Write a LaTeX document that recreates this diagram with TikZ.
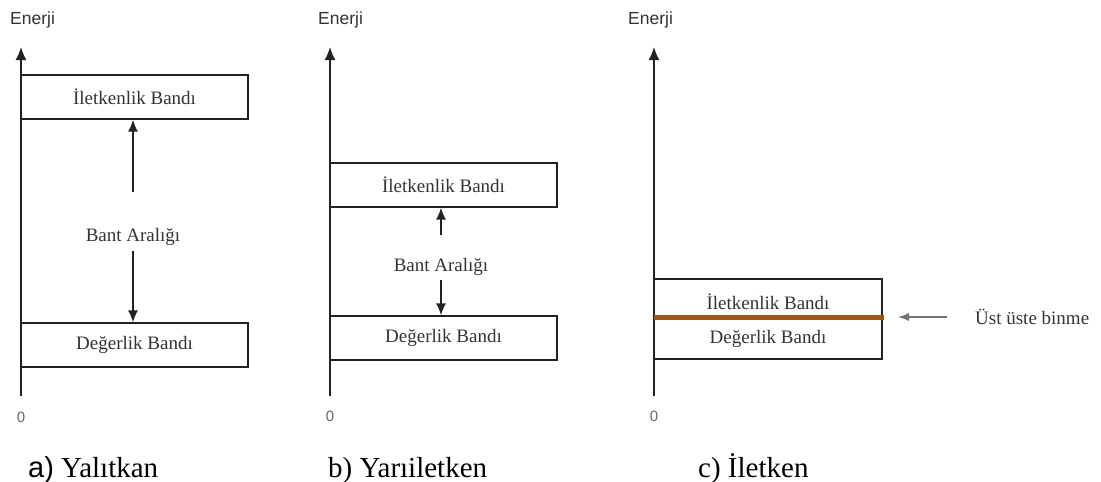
\documentclass[tikz,border=0pt]{standalone}
\usepackage{fontspec}
\setmainfont{Liberation Serif}
\newfontfamily\arialfont{Liberation Sans}
\usetikzlibrary{arrows.meta}
\definecolor{linecol}{HTML}{222222}
\definecolor{txtcol}{HTML}{333333}
\definecolor{overlap}{RGB}{158,86,22}
\tikzset{
  axis/.style={draw=linecol, line width=1.5pt, -{Latex[length=13pt,width=11pt]}},
  gaparrow/.style={draw=linecol, line width=1.4pt, -{Latex[length=12pt,width=10pt]}},
  bandbox/.style={draw=linecol, line width=1.3pt, minimum width=227pt, inner sep=0pt,
    text=txtcol, font=\fontsize{19}{22}\selectfont},
  bandtext/.style={text=txtcol, font=\fontsize{19}{22}\selectfont, inner sep=0pt},
  axlabel/.style={text=txtcol, font=\arialfont\fontsize{17.5}{20}\selectfont, inner sep=0pt, anchor=base west},
  zerolabel/.style={text=black!60, font=\arialfont\fontsize{15}{18}\selectfont, inner sep=0pt},
  caption/.style={font=\fontsize{29}{34}\selectfont, inner sep=0pt, anchor=base west}
}
\begin{document}
\begin{tikzpicture}[x=1pt,y=-1pt]
\useasboundingbox (0,0) rectangle (1101,482);

% ---------- a) insulator ----------
\node[axlabel] (a-en) at (10,24) {Enerji};
\coordinate (a-o) at (21,396);
\coordinate (a-top) at (21,47);
\draw[axis] (a-o) -- (a-top);
\node[zerolabel] (a-zero) at (21,417) {0};
\node[bandbox, minimum height=44pt] (a-cb) at (134.5,97) {İletkenlik Bandı};
\node[bandbox, minimum height=44pt] (a-vb) at (134.5,345) {Değerlik Bandı};
\node[bandtext] (a-gap) at (133,237) {Bant Aralığı};
\coordinate (a-up) at (133,192);
\coordinate (a-dn) at (133,251);
\draw[gaparrow] (a-up) -- (a-up |- a-cb.south);
\draw[gaparrow] (a-dn) -- (a-dn |- a-vb.north);
\node[caption] (a-cap) at (28,477) {{\arialfont a)} Yalıtkan};

% ---------- b) semiconductor ----------
\node[axlabel] (b-en) at (318,24) {Enerji};
\coordinate (b-o) at (330,396);
\coordinate (b-top) at (330,47);
\draw[axis] (b-o) -- (b-top);
\node[zerolabel] (b-zero) at (330,416) {0};
\node[bandbox, minimum height=44pt] (b-cb) at (443.5,185) {İletkenlik Bandı};
\node[bandbox, minimum height=44pt] (b-vb) at (443.5,338) {Değerlik Bandı};
\node[bandtext] (b-gap) at (441,267) {Bant Aralığı};
\coordinate (b-up) at (441,235);
\coordinate (b-dn) at (441,280);
\draw[gaparrow] (b-up) -- (b-up |- b-cb.south);
\draw[gaparrow] (b-dn) -- (b-dn |- b-vb.north);
\node[caption] (b-cap) at (328,477) {b) Yarıiletken};

% ---------- c) conductor ----------
\node[axlabel] (c-en) at (628,24) {Enerji};
\coordinate (c-o) at (654,396);
\coordinate (c-top) at (654,47);
\draw[axis] (c-o) -- (c-top);
\node[zerolabel] (c-zero) at (654,416) {0};
\node[bandbox, minimum width=228pt, minimum height=80pt] (c-box) at (768,319) {};
\node[bandtext] (c-cbt) at (768,302) {İletkenlik Bandı};
\node[bandtext] (c-vbt) at (768,339) {Değerlik Bandı};
\coordinate (c-ovl) at (654,317);
\coordinate (c-ovr) at (884,317);
\draw[overlap, line width=5pt] (c-ovl) -- (c-ovr);
\node[bandtext, anchor=west] (c-note) at (975,317) {Üst üste binme};
\coordinate (c-ptr) at (947,317);
\draw[draw=black!55, line width=1.2pt, -{Latex[length=11pt,width=8pt]}] (c-ptr) -- (c-ptr -| 898,0);
\node[caption] (c-cap) at (698,477) {c) İletken};
\end{tikzpicture}
\end{document}
